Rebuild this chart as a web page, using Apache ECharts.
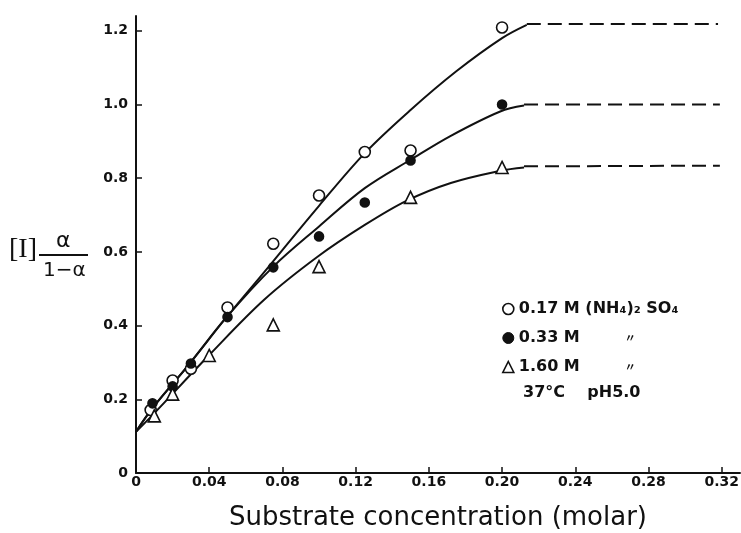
<!DOCTYPE html>
<html>
<head>
<meta charset="utf-8">
<script src="https://cdn.jsdelivr.net/npm/echarts@6/dist/echarts.min.js"></script>
<style>
  html, body { margin: 0; padding: 0; background: #fff; }
  #chart { width: 741px; height: 533px; }
</style>
</head>
<body>
<div id="chart"></div>
<script>
// axis ticks
var xTicks = [0, 0.04, 0.08, 0.12, 0.16, 0.20, 0.24, 0.28, 0.32];
var yTicks = [0, 0.2, 0.4, 0.6, 0.8, 1.0, 1.2];

// measured points [substrate, value]
var pts017 = [[0.008, 0.171], [0.02, 0.251], [0.03, 0.283], [0.05, 0.449], [0.075, 0.622], [0.1, 0.753], [0.125, 0.871], [0.15, 0.875], [0.2, 1.209]];
var pts033 = [[0.009, 0.189], [0.02, 0.235], [0.03, 0.297], [0.05, 0.423], [0.075, 0.558], [0.1, 0.642], [0.125, 0.734], [0.15, 0.848], [0.2, 1.0]];
var pts160 = [[0.01, 0.155], [0.02, 0.214], [0.04, 0.319], [0.075, 0.402], [0.1, 0.56], [0.15, 0.748], [0.2, 0.829]];

// fitted curves (hand drawn in the original)
var curve017 = [[0, 0.112], [0.009, 0.176], [0.029, 0.295], [0.049, 0.42], [0.068, 0.533], [0.1, 0.725], [0.125, 0.868], [0.15, 0.985], [0.175, 1.09], [0.2, 1.18], [0.2135, 1.216]];
var curve033 = [[0, 0.112], [0.009, 0.176], [0.029, 0.295], [0.049, 0.42], [0.075, 0.56], [0.1, 0.669], [0.125, 0.773], [0.15, 0.85], [0.172, 0.915], [0.199, 0.981], [0.212, 0.997]];
var curve160 = [[0, 0.112], [0.009, 0.157], [0.04, 0.32], [0.07, 0.47], [0.099, 0.586], [0.125, 0.673], [0.148, 0.739], [0.172, 0.787], [0.199, 0.82], [0.212, 0.829]];

// dashed plateaus
var plateau017 = [[0.2135, 1.218], [0.318, 1.218]];
var plateau033 = [[0.212, 1.0], [0.319, 1.0]];
var plateau160 = [[0.212, 0.832], [0.319, 0.834]];

var names = ['0.17 M (NH₄)₂ SO₄', '0.33 M', '1.60 M'];

var chart = echarts.init(document.getElementById('chart'));

function curveSeries(name, data, dashed) {
	return {
		name: name,
		type: 'line',
		data: data,
		smooth: dashed ? false : 0.35,
		showSymbol: false,
		silent: true,
		z: 1,
		lineStyle: {
			color: '#111',
			width: 2,
			type: dashed ? [14, 7] : 'solid'
		}
	};
}

function pointSeries(name, data, symbol, fill, size) {
	return {
		name: name,
		type: 'scatter',
		data: data,
		symbol: symbol,
		symbolSize: size,
		z: 3,
		itemStyle: {
			color: fill,
			borderColor: '#111',
			borderWidth: 1.6,
			opacity: 1
		}
	};
}

var option = {
	animation: false,
	backgroundColor: '#fff',
	textStyle: { fontFamily: 'DejaVu Sans', color: '#111' },
	grid: { left: 136, right: 1, top: 16, bottom: 60, outerBoundsMode: 'none', containLabel: false },
	legend: {
		orient: 'vertical',
		left: 497,
		top: 296,
		itemWidth: 11,
		itemHeight: 11,
		itemGap: 13,
		selectedMode: false,
		data: [
			{ name: names[0], icon: 'circle', itemStyle: { color: '#fff', borderColor: '#111', borderWidth: 1.6 } },
			{ name: names[1], icon: 'circle', itemStyle: { color: '#111', borderColor: '#111', borderWidth: 1 } },
			{ name: names[2], icon: 'triangle', itemStyle: { color: '#fff', borderColor: '#111', borderWidth: 1.6 } }
		],
		formatter: function(name) {
			if(name === names[0]) return '{n|' + name + '}';
			return '{s|' + name + '}{d|〃}';
		},
		textStyle: {
			color: '#111',
			fontSize: 16,
			fontWeight: 'bold',
			fontFamily: 'DejaVu Sans',
			rich: {
				n: { fontSize: 16, fontWeight: 'bold', fontFamily: 'DejaVu Sans', color: '#111' },
				s: { width: 106, fontSize: 16, fontWeight: 'bold', fontFamily: 'DejaVu Sans', color: '#111' },
				d: { fontSize: 11, fontWeight: 'bold', fontFamily: 'Noto Sans CJK JP', color: '#111' }
			}
		}
	},
	xAxis: {
		type: 'value',
		min: 0,
		max: 0.33,
		interval: 0.04,
		name: 'Substrate concentration (molar)',
		nameLocation: 'middle',
		nameGap: 32,
		nameTextStyle: { fontSize: 26, fontFamily: 'DejaVu Sans', color: '#111' },
		splitLine: { show: false },
		axisLine: { lineStyle: { color: '#111', width: 2 } },
		axisTick: { inside: true, length: 6, customValues: xTicks, lineStyle: { color: '#111', width: 1.5 } },
		axisLabel: {
			customValues: xTicks,
			margin: 2,
			fontSize: 14,
			fontWeight: 'bold',
			fontFamily: 'DejaVu Sans',
			color: '#111',
			formatter: function(v) { return v === 0 ? '0' : v.toFixed(2); }
		}
	},
	yAxis: {
		type: 'value',
		min: 0,
		max: 1.24,
		interval: 0.2,
		splitLine: { show: false },
		axisLine: { show: true, lineStyle: { color: '#111', width: 2 } },
		axisTick: { show: true, inside: true, length: 6, customValues: yTicks, lineStyle: { color: '#111', width: 1.5 } },
		axisLabel: {
			customValues: yTicks,
			margin: 8,
			fontSize: 14,
			fontWeight: 'bold',
			fontFamily: 'DejaVu Sans',
			color: '#111',
			formatter: function(v) { return v === 0 ? '0' : v.toFixed(1); }
		}
	},
	graphic: [
		{ type: 'text', left: 9, top: 236, style: { text: '[I]', font: '28px "Liberation Serif"', fill: '#111' } },
		{ type: 'text', left: 56, top: 230, style: { text: 'α', font: '22px "DejaVu Sans"', fill: '#111' } },
		{ type: 'line', shape: { x1: 39, y1: 255, x2: 88, y2: 255 }, style: { stroke: '#111', lineWidth: 2 } },
		{ type: 'text', left: 43, top: 261, style: { text: '1−α', font: '20px "DejaVu Sans"', fill: '#111' } },
		{ type: 'text', left: 523, top: 385, style: { text: '37°C    pH5.0', font: 'bold 16px "DejaVu Sans"', fill: '#111' } }
	],
	series: [
		curveSeries('fit 0.17', curve017, false),
		curveSeries('fit 0.33', curve033, false),
		curveSeries('fit 1.60', curve160, false),
		curveSeries('plateau 0.17', plateau017, true),
		curveSeries('plateau 0.33', plateau033, true),
		curveSeries('plateau 1.60', plateau160, true),
		pointSeries(names[0], pts017, 'circle', '#fff', 11),
		pointSeries(names[1], pts033, 'circle', '#111', 9),
		pointSeries(names[2], pts160, 'triangle', '#fff', 12)
	]
};

chart.setOption(option);
</script>
</body>
</html>
